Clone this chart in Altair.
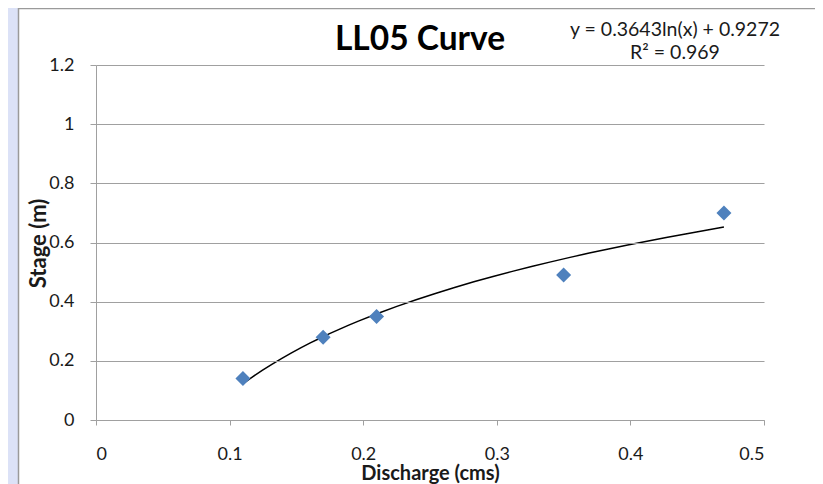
import altair as alt
import pandas as pd

# Data
discharge = [0.11, 0.17, 0.21, 0.35, 0.47]
stage = [0.14, 0.28, 0.35, 0.49, 0.70]
x_ticks = [0, 0.1, 0.2, 0.3, 0.4, 0.5]
y_ticks = [0, 0.2, 0.4, 0.6, 0.8, 1.0, 1.2]
equation_lines = ["y = 0.3643ln(x) + 0.9272", "R\u00b2 = 0.969"]
title_text = "LL05 Curve"

df = pd.DataFrame({"Discharge": discharge, "Stage": stage})

FONT = "Lato"
GRAY = "#a0a0a0"
TXT = "#1a1a1a"

xs = alt.Scale(domain=[0, 0.5], nice=False, zero=False)
ys = alt.Scale(domain=[0, 1.2], nice=False, zero=False)

base = alt.Chart(df)
one = alt.Data(values=[{}])

# White chart-area box (decoration)
box = alt.Chart(one).mark_rect(
    fill="white", stroke="#9a9a9a", strokeWidth=1.5
).encode(
    x=alt.value(-77.5), x2=alt.value(740),
    y=alt.value(-56.5), y2=alt.value(500)
)

trend = base.transform_regression(
    "Discharge", "Stage", method="log"
).mark_line(color="black", strokeWidth=1.5).encode(
    x=alt.X("Discharge:Q", scale=xs,
            axis=alt.Axis(values=x_ticks, format="~g", grid=False,
                          domainColor=GRAY, tickColor=GRAY, tickSize=5,
                          labelPadding=20, labelBaseline="top",
                          labelFont=FONT, labelFontSize=18, labelColor=TXT,
                          title="Discharge (cms)", titleFont=FONT,
                          titleFontSize=20, titleFontWeight="bold",
                          titleColor=TXT, titleY=53, titleBaseline="middle",
                          zindex=1)),
    y=alt.Y("Stage:Q", scale=ys,
            axis=alt.Axis(values=y_ticks, format="~g", grid=True,
                          gridColor=GRAY, gridWidth=1.2,
                          domainColor=GRAY, tickColor=GRAY, tickSize=6,
                          labelPadding=16,
                          labelFont=FONT, labelFontSize=18, labelColor=TXT,
                          title="Stage (m)", titleFont=FONT,
                          titleFontSize=22, titleFontWeight="bold",
                          titleColor=TXT, titleAngle=270, titleX=-58,
                          titleY=178, titleAlign="center",
                          titleBaseline="middle", zindex=1)),
)

points = base.mark_point(
    shape="diamond", filled=True, size=225, color="#4f81bd", opacity=1
).encode(
    x=alt.X("Discharge:Q", scale=xs),
    y=alt.Y("Stage:Q", scale=ys),
)

title = alt.Chart(one).mark_text(
    text=title_text, font=FONT, fontSize=33.5, fontWeight="bold",
    color="black", align="center", baseline="alphabetic"
).encode(x=alt.value(324), y=alt.value(-15))

eq1 = alt.Chart(one).mark_text(
    text=equation_lines[0], font=FONT, fontSize=19.5, color=TXT,
    align="center", baseline="middle"
).encode(x=alt.value(579), y=alt.value(-35))

eq2 = alt.Chart(one).mark_text(
    text=equation_lines[1], font=FONT, fontSize=19.5, color=TXT,
    align="center", baseline="middle"
).encode(x=alt.value(579), y=alt.value(-12))

chart = alt.layer(box, trend, points, title, eq1, eq2).properties(
    width=668, height=355,
    autosize=alt.AutoSizeParams(type="none"),
    padding={"left": 88, "top": 57, "right": 51, "bottom": 64},
    background="#dce2f7",
).configure_view(stroke=None)

chart.save("out.html", embed_options={"renderer": "svg", "actions": False})
